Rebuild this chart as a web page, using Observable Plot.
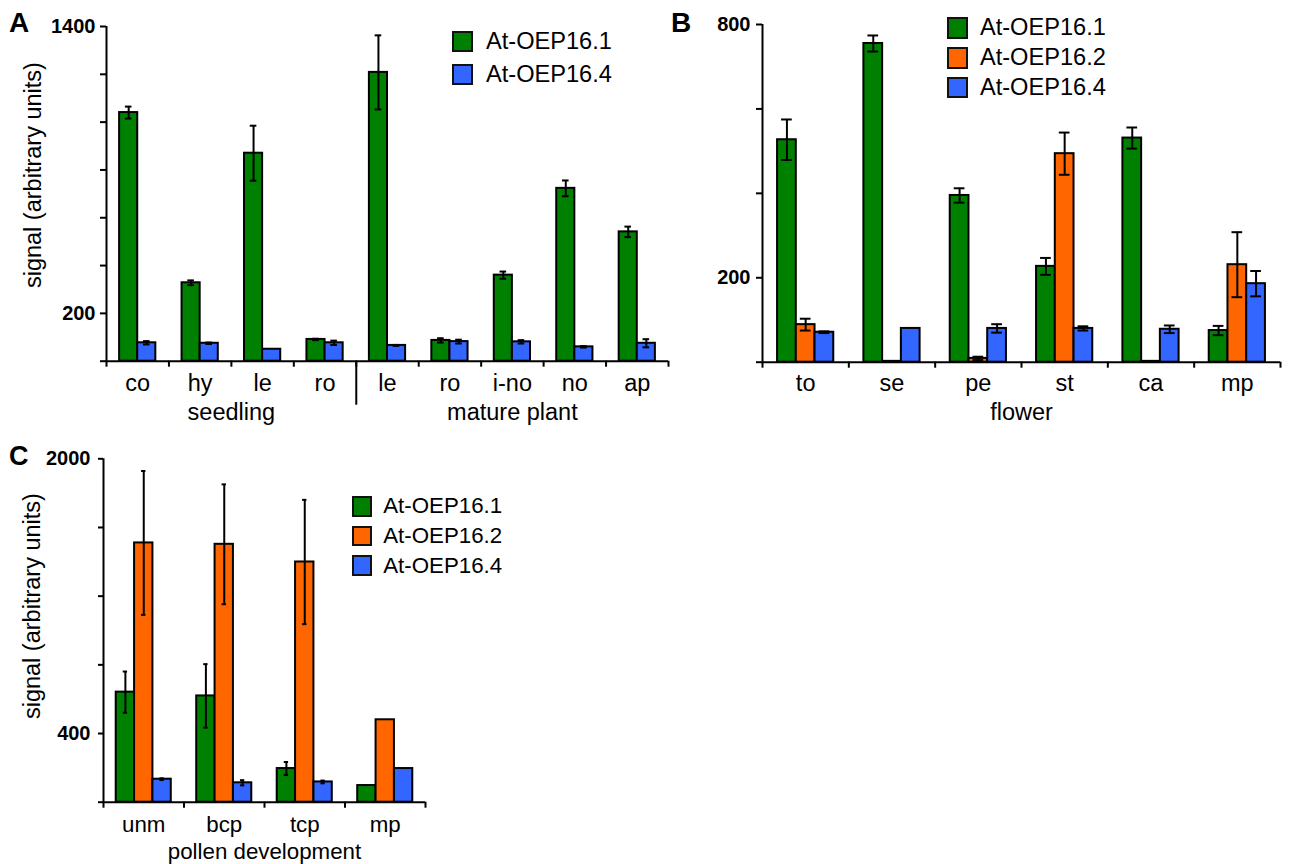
<!DOCTYPE html>
<html>
<head>
<meta charset="utf-8">
<script src="https://cdn.jsdelivr.net/npm/d3@7"></script>
<script src="https://cdn.jsdelivr.net/npm/@observablehq/plot@0.6"></script>
<style>
  html, body { margin: 0; padding: 0; background: #fff; }
  body { font-family: "Liberation Sans", Arial, sans-serif; color: #000; }
  #root { position: relative; width: 1292px; height: 864px; overflow: hidden; }
  .panel { position: absolute; }
  .panel svg { overflow: visible; }
  .panel g[aria-label="y-axis tick label"] { font-weight: bold; font-size: 20px; }
  .letter { position: absolute; font-weight: bold; white-space: nowrap; }
  .legend { position: absolute; }
  .row { display: flex; align-items: center; white-space: nowrap; }
  .sw { box-sizing: border-box; border: 2px solid #111; }
  .ytitle { position: absolute; transform: rotate(-90deg); white-space: nowrap; text-align: center; }
</style>
</head>
<body>
<div id="root"></div>
<script>
// ---------- data ----------
const seriesNames = ["At-OEP16.1", "At-OEP16.2", "At-OEP16.4"];
const seriesColors = ["#008000", "#ff6600", "#3366ff"];

// Panel A
const catsA = ["co", "hy", "le", "ro", "le", "ro", "i-no", "no", "ap"];
const groupA = ["seedling", "seedling", "seedling", "seedling",
  "mature plant", "mature plant", "mature plant", "mature plant", "mature plant"];
const a161 = [1040, 328, 870, 91, 1208, 87, 360, 723, 541];
const a161err = [25, 10, 115, 3, 155, 9, 15, 33, 22];
const a164 = [77, 75, 50, 77, 66, 82, 81, 60, 75];
const a164err = [7, 3, 0, 9, 2, 8, 7, 3, 17];
const ticksA = [0, 200, 400, 600, 800, 1000, 1200, 1400];
const tickLabelsA = [200, 1400];

// Panel B
const catsB = ["to", "se", "pe", "st", "ca", "mp"];
const groupB = ["flower", "flower", "flower", "flower", "flower", "flower"];
const b161 = [527, 755, 395, 227, 531, 75];
const b161err = [48, 19, 17, 20, 25, 11];
const b162 = [89, 2, 9, 494, 2, 231];
const b162err = [14, 0, 4, 50, 0, 77];
const b164 = [71, 80, 80, 80, 78, 186];
const b164err = [2, 0, 10, 5, 9, 30];
const ticksB = [0, 200, 400, 600, 800];
const tickLabelsB = [200, 800];

// Panel C
const catsC = ["unm", "bcp", "tcp", "mp"];
const groupC = ["pollen development", "pollen development", "pollen development", "pollen development"];
const c161 = [641, 619, 196, 97];
const c161err = [120, 185, 38, 0];
const c162 = [1510, 1502, 1399, 480];
const c162err = [419, 349, 362, 0];
const c164 = [134, 113, 118, 196];
const c164err = [5, 15, 8, 0];
const ticksC = [0, 400, 800, 1200, 1600, 2000];
const tickLabelsC = [400, 2000];

const yTitle = "signal (arbitrary units)";
const FONT = "Liberation Sans, Arial, sans-serif";

// ---------- chart builder ----------
function panel(o) {
  const n = o.series.length, w = o.barFrac;
  const rows = [];
  o.cats.forEach((c, i) => o.series.forEach((s, k) => {
    const x1 = i + 0.5 + (k - n / 2) * w;
    rows.push({i, name: s.name, v: s.values[i], e: s.errors[i], x1, x2: x1 + w, xc: x1 + w / 2});
  }));
  const errs = rows.filter(d => d.e > 0);
  const groups = d3.groups(o.cats.map((c, i) => ({g: o.group[i], i})), d => d.g)
    .map(([g, arr]) => {
      const lo = d3.min(arr, d => d.i), hi = d3.max(arr, d => d.i) + 1;
      return {name: g, lo, hi, center: (lo + hi) / 2};
    });
  const seps = groups.slice(1).map(g => g.lo);
  const cap = o.capFrac;
  const ymax = d3.max(o.ticks);
  const marks = [
    Plot.rectY(rows, {x1: "x1", x2: "x2", y1: 0, y2: "v", fill: "name", stroke: "#000", strokeWidth: 2}),
    Plot.ruleX(errs, {x: "xc", y1: d => d.v - d.e, y2: d => d.v + d.e, stroke: "#000", strokeWidth: 2}),
    Plot.ruleY(errs, {y: d => d.v + d.e, x1: d => d.xc - cap, x2: d => d.xc + cap, stroke: "#000", strokeWidth: 2}),
    Plot.ruleY(errs, {y: d => d.v - d.e, x1: d => d.xc - cap, x2: d => d.xc + cap, stroke: "#000", strokeWidth: 2}),
    Plot.ruleY([0], {stroke: "#000", strokeWidth: 2}),
    Plot.ruleX([0], {stroke: "#000", strokeWidth: 2}),
    Plot.axisY({ticks: o.ticks, tickSize: o.yTickSize, tickPadding: o.yTickPad, strokeWidth: 2,
      tickFormat: d => o.tickLabels.includes(d) ? String(d) : "",
      fontSize: 20, fontWeight: "bold", label: null}),
    Plot.axisX({ticks: d3.range(0, o.cats.length + 1), tickSize: 6, strokeWidth: 2,
      tickFormat: () => "", label: null}),
    Plot.axisX({ticks: o.cats.map((c, i) => i + 0.5), tickSize: 0, tickPadding: o.catPad,
      tickFormat: d => o.cats[Math.floor(d)], fontSize: o.fontSize, label: null}),
    Plot.text(groups, {x: "center", text: "name", frameAnchor: "bottom", lineAnchor: "middle",
      dy: o.groupDy, fontSize: o.fontSize})
  ];
  if (seps.length) {
    marks.push(Plot.axisX({ticks: seps, tickSize: o.sepLen, strokeWidth: 2, tickFormat: () => "", label: null}));
  }
  return Plot.plot({
    width: o.width, height: o.height,
    marginLeft: o.ml, marginRight: o.mr, marginTop: o.mt, marginBottom: o.mb,
    x: {domain: [0, o.cats.length], axis: null},
    y: {domain: [0, ymax], axis: null},
    color: {domain: seriesNames, range: seriesColors},
    style: {fontFamily: FONT, fontSize: "20px", background: "transparent", overflow: "visible"},
    marks
  });
}

const root = document.getElementById("root");
function place(el, left, top) {
  const d = document.createElement("div");
  d.className = "panel";
  d.style.left = left + "px"; d.style.top = top + "px";
  d.appendChild(el);
  root.appendChild(d);
}

place(panel({
  cats: catsA, group: groupA,
  series: [
    {name: seriesNames[0], values: a161, errors: a161err},
    {name: seriesNames[2], values: a164, errors: a164err}
  ],
  ticks: ticksA, tickLabels: tickLabelsA,
  width: 680, height: 430, ml: 106, mr: 12, mt: 26, mb: 69.3,
  barFrac: 0.29, capFrac: 0.053, yTickSize: 6, yTickPad: 5,
  catPad: 13, groupDy: 51, fontSize: 23.5, sepLen: 44
}), 0, 0);

place(panel({
  cats: catsB, group: groupB,
  series: [
    {name: seriesNames[0], values: b161, errors: b161err},
    {name: seriesNames[1], values: b162, errors: b162err},
    {name: seriesNames[2], values: b164, errors: b164err}
  ],
  ticks: ticksB, tickLabels: tickLabelsB,
  width: 612, height: 430, ml: 82, mr: 12, mt: 24, mb: 68.3,
  barFrac: 0.217, capFrac: 0.062, yTickSize: 6, yTickPad: 6,
  catPad: 12.3, groupDy: 50, fontSize: 23.5, sepLen: 0
}), 680, 0);

place(panel({
  cats: catsC, group: groupC,
  series: [
    {name: seriesNames[0], values: c161, errors: c161err},
    {name: seriesNames[1], values: c162, errors: c162err},
    {name: seriesNames[2], values: c164, errors: c164err}
  ],
  ticks: ticksC, tickLabels: tickLabelsC,
  width: 560, height: 424, ml: 103, mr: 135, mt: 18.3, mb: 62.3,
  barFrac: 0.228, capFrac: 0.027, yTickSize: 5, yTickPad: 8,
  catPad: 14.2, groupDy: 49.5, fontSize: 22.3, sepLen: 0
}), 0, 440);

// ---------- panel letters ----------
function letter(t, left, top, size) {
  const d = document.createElement("div");
  d.className = "letter";
  d.textContent = t;
  d.style.left = left + "px"; d.style.top = top + "px";
  d.style.fontSize = size + "px"; d.style.lineHeight = size + "px";
  root.appendChild(d);
}
letter("A", 9, 9.3, 28);
letter("B", 671, 8.6, 28);
letter("C", 9, 443, 27);

// ---------- y titles ----------
function ytitle(cx, cy, size) {
  const d = document.createElement("div");
  d.className = "ytitle";
  const W = 300, L = size * 1.2;
  d.style.width = W + "px"; d.style.height = L + "px"; d.style.lineHeight = L + "px";
  d.style.left = (cx - W / 2) + "px"; d.style.top = (cy - L / 2) + "px";
  d.style.fontSize = size + "px";
  d.textContent = yTitle;
  root.appendChild(d);
}
ytitle(33, 175, 23.5);
ytitle(31.5, 606.5, 23.5);

// ---------- legends ----------
function legend(idx, left, top, rowH, sq, gap, size) {
  const box = document.createElement("div");
  box.className = "legend";
  box.style.left = left + "px"; box.style.top = top + "px";
  idx.forEach(k => {
    const r = document.createElement("div");
    r.className = "row";
    r.style.height = rowH + "px";
    const s = document.createElement("div");
    s.className = "sw";
    s.style.width = sq + "px"; s.style.height = sq + "px";
    s.style.background = seriesColors[k];
    const t = document.createElement("span");
    t.textContent = seriesNames[k];
    t.style.fontSize = size + "px";
    t.style.marginLeft = gap + "px";
    r.appendChild(s); r.appendChild(t);
    box.appendChild(r);
  });
  root.appendChild(box);
}
legend([0, 2], 452.3, 25, 32.7, 21, 12.7, 23.6);
legend([0, 1, 2], 946.7, 13.1, 29.75, 21.6, 11.7, 23.6);
legend([0, 1, 2], 351.7, 491.5, 29.7, 20.5, 11, 22.3);
</script>
</body>
</html>
